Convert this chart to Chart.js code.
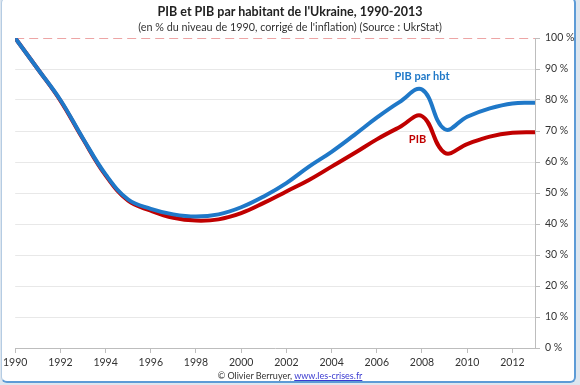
<!DOCTYPE html>
<html>
<head>
<meta charset="utf-8">
<script src="https://cdn.jsdelivr.net/npm/chart.js@4"></script>
<style>
  html, body { margin: 0; padding: 0; background: #dde6ef; }
  #wrap { position: relative; width: 580px; height: 385px; overflow: hidden; }
  #frame {
    position: absolute; left: 1px; top: -3px; width: 572px; height: 383px;
    background: #fff; border: 1px solid #b5cce3; border-right: 2px solid #5d9bd6;
    border-bottom: 2px solid #5d9bd6; border-radius: 6px;
  }
  #chart { position: absolute; left: 0; top: 0; }
  .txt { position: absolute; left: 0; width: 580px; text-align: center; font-family: Lato, "Open Sans", sans-serif; color: #222; }
  #title { top: 4px; font-size: 12.5px; font-weight: bold; }
  #subtitle { top: 20px; font-size: 10.8px; color: #333; }
  #footer { top: 370px; font-size: 9px; color: #333; }
  #footer a { color: #3a3ad0; text-decoration: underline; }
</style>
</head>
<body>
<div id="wrap">
  <div id="frame"></div>
  <canvas id="chart" width="580" height="385"></canvas>
  <div class="txt" id="title">PIB et PIB par habitant de l'Ukraine, 1990-2013</div>
  <div class="txt" id="subtitle">(en % du niveau de 1990, corrigé de l'inflation) (Source : UkrStat)</div>
  <div class="txt" id="footer">© Olivier Berruyer, <a href="#">www.les-crises.fr</a></div>
</div>
<script>
// valeurs (en % de 1990)
const annees = [1990, 1991, 1992, 1993, 1994, 1995, 1996, 1997, 1998, 1999, 2000, 2001,
  2002, 2003, 2004, 2005, 2006, 2007, 2008, 2009, 2010, 2011, 2012, 2013];
const pibParHbt = [100, 90, 80, 67.6, 56, 47.9, 44.9, 43.1, 42.4, 43.1, 45.4, 48.9,
  53.2, 58.5, 63.3, 68.7, 74.3, 79.3, 83.4, 70.6, 74.6, 77.3, 78.9, 79.1];
const pib = [100, 90, 79.8, 67.4, 55.7, 47.5, 44.3, 42.0, 41.1, 41.5, 43.5, 46.8,
  50.5, 54.2, 58.5, 62.8, 67.3, 71.2, 74.8, 63.0, 65.8, 68.2, 69.4, 69.6];
const niveauRef = 100;
const anneesTicks = [1990, 1992, 1994, 1996, 1998, 2000, 2002, 2004, 2006, 2008, 2010, 2012];

const pts = vals => annees.map((a, i) => ({ x: a, y: vals[i] }));

const etiquettes = {
  id: 'etiquettes',
  afterDatasetsDraw(chart) {
    const { ctx, scales: { x, y } } = chart;
    ctx.save();
    ctx.font = 'bold 11px Lato, "Open Sans", sans-serif';
    ctx.textAlign = 'center';
    ctx.textBaseline = 'middle';
    ctx.fillStyle = '#1f78c8';
    ctx.fillText('PIB par hbt', x.getPixelForValue(2008), y.getPixelForValue(87.5));
    ctx.fillStyle = '#c00000';
    ctx.fillText('PIB', x.getPixelForValue(2007.8), y.getPixelForValue(67.3));
    ctx.restore();
  }
};

new Chart(document.getElementById('chart'), {
  type: 'line',
  data: {
    datasets: [
      {
        label: 'PIB par hbt',
        data: pts(pibParHbt),
        borderColor: '#1f78c8',
        borderWidth: 4,
        tension: 0.4,
        pointRadius: 0,
        order: 1,
      },
      {
        label: 'PIB',
        data: pts(pib),
        borderColor: '#c00000',
        borderWidth: 4,
        tension: 0.4,
        pointRadius: 0,
        order: 2,
      },
      {
        label: '100 %',
        data: [{ x: annees[0], y: niveauRef }, { x: annees[annees.length - 1], y: niveauRef }],
        borderColor: '#e88888',
        borderWidth: 1.5,
        borderDash: [9, 5],
        pointRadius: 0,
        order: 3,
      },
    ],
  },
  options: {
    responsive: false,
    animation: false,
    layout: { padding: { left: 15, top: 38, right: 4, bottom: 0 } },
    plugins: { legend: { display: false }, tooltip: { enabled: false } },
    scales: {
      x: {
        type: 'linear',
        min: 1990,
        max: 2013,
        afterBuildTicks: s => { s.ticks = anneesTicks.map(v => ({ value: v })); },
        afterFit: s => { s.height = 37; },
        grid: { drawOnChartArea: false, tickLength: 5, tickColor: '#bdbdbd' },
        border: { color: '#bdbdbd' },
        ticks: {
          autoSkip: false,
          maxRotation: 0,
          padding: 3,
          color: '#333',
          font: { family: 'Lato, "Open Sans", sans-serif', size: 10.5 },
          callback: v => String(v),
        },
      },
      y: {
        position: 'right',
        min: 0,
        max: 100,
        afterFit: s => { s.width = 41; },
        grid: {
          color: c => (c.tick && (c.tick.value === 100 || c.tick.value === 0)) ? 'rgba(0,0,0,0)' : '#e8e8e8',
          tickLength: 5,
          tickColor: '#bdbdbd',
        },
        border: { color: '#bdbdbd' },
        ticks: {
          stepSize: 10,
          padding: 5,
          color: '#333',
          font: { family: 'Lato, "Open Sans", sans-serif', size: 10.5 },
          callback: v => v + ' %',
        },
      },
    },
  },
  plugins: [etiquettes],
});
</script>
</body>
</html>
